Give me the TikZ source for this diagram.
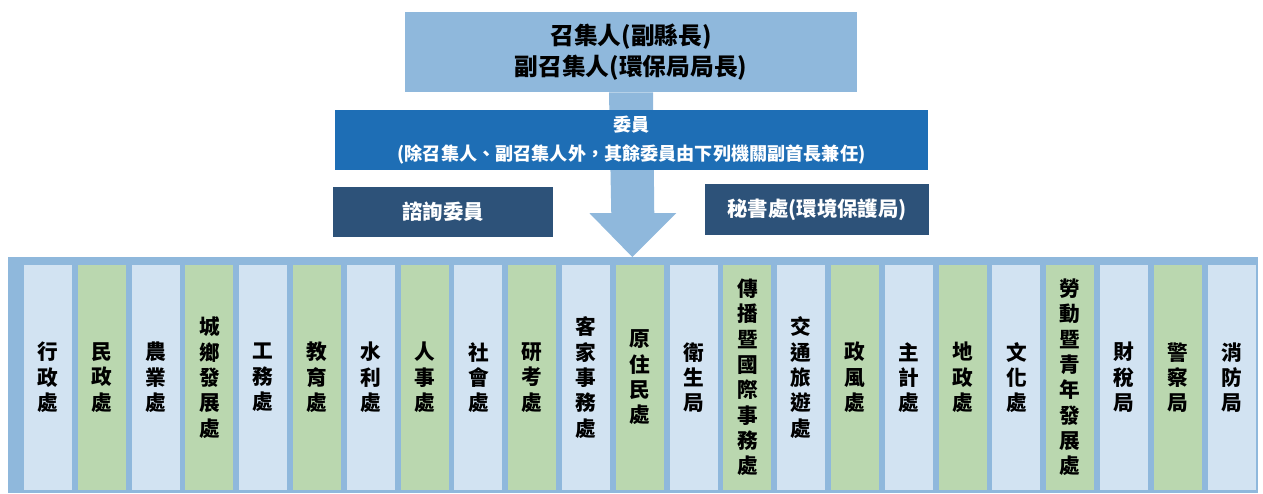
\documentclass[tikz,border=0pt]{standalone}
\usepackage{fontspec}
\newfontfamily\cjk{Noto Sans CJK TC}
\usetikzlibrary{calc}
\definecolor{paleblue}{HTML}{8FB8DC}
\definecolor{midblue}{HTML}{1E6EB5}
\definecolor{darkblue}{HTML}{2D5279}
\definecolor{colblue}{HTML}{D2E3F2}
\definecolor{colgreen}{HTML}{BAD7AF}

\begin{document}
\begin{tikzpicture}[x=0.75pt,y=-0.75pt,
    box/.style={inner sep=0pt, align=center, font=\cjk\bfseries},
    dept/.style={box, minimum width=36pt, minimum height=168.75pt,
      font=\cjk\bfseries\fontsize{15.5}{19}\selectfont}]
    \useasboundingbox (0,0) rectangle (1263,493);

    % top box and arrow
    \node[box, fill=paleblue, minimum width=339pt, minimum height=60pt,
      font=\cjk\bfseries\fontsize{17.8}{22}\selectfont] (top) at (631,52)
      {召集人(副縣長)\\[1pt]副召集人(環保局局長)};

    \node[box, fill=paleblue, minimum width=937.5pt, minimum height=177pt,
      anchor=north west] (panel) at (8,257) {};

    \fill[paleblue] ($(top.south)+(-22,0)$) -- ($(top.south)+(22,0)$)
      -- ($(panel.north)+(21,-44)$) -- ($(panel.north)+(43,-44)$)
      -- ($(panel.north)+(-1,0)$) -- ($(panel.north)+(-44,-44)$)
      -- ($(panel.north)+(-22,-44)$) -- cycle;

    %%%%%%%%%%%%%%%%%%%%%%%%%%%%%%%%%%%%

    \node[box, fill=midblue, text=white, minimum width=444.75pt, minimum height=45pt,
      font=\cjk\bfseries\fontsize{13.6}{19}\selectfont] (members) at (631.5,140)
      {委員\\[2.5pt](除召集人、副召集人外，其餘委員由下列機關副首長兼任)};

    \node[box, fill=darkblue, text=white, minimum width=165pt, minimum height=37.5pt,
      font=\cjk\bfseries\fontsize{15.3}{17}\selectfont] (advisors) at (443,212) {諮詢委員};
    \node[box, fill=darkblue, text=white, minimum width=168pt, minimum height=38.25pt,
      font=\cjk\bfseries\fontsize{15.3}{17}\selectfont] (secretariat) at (817,209.5)
      {秘書處(環境保護局)};

    %%%%%%%%%%%%%%%%%%%%%%%%%%%%%%%%%%%%

    \foreach \lbl [count=\i] in {{行\\政\\處},{民\\政\\處},{農\\業\\處},
        {城\\鄉\\發\\展\\處},{工\\務\\處},{教\\育\\處},{水\\利\\處},
        {人\\事\\處},{社\\會\\處},{研\\考\\處},{客\\家\\事\\務\\處},
        {原\\住\\民\\處},{衛\\生\\局},{傳\\播\\暨\\國\\際\\事\\務\\處},
        {交\\通\\旅\\遊\\處},{政\\風\\處},{主\\計\\處},{地\\政\\處},
        {文\\化\\處},{勞\\動\\暨\\青\\年\\發\\展\\處},{財\\稅\\局},
        {警\\察\\局},{消\\防\\局}}{
      \pgfmathsetmacro\shade{int(mod(\i,2))}
      \ifnum\shade=1
        \node[dept, fill=colblue] (d\i) at (48+53.8*\i-53.8,377.5) {\lbl};
      \else
        \node[dept, fill=colgreen] (d\i) at (48+53.8*\i-53.8,377.5) {\lbl};
      \fi
    }

\end{tikzpicture}
\end{document}
